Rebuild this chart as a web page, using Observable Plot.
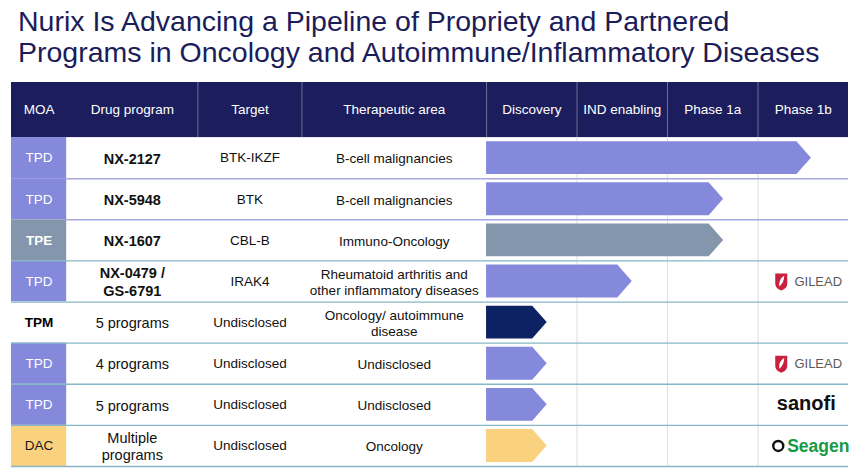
<!DOCTYPE html>
<html>
<head>
<meta charset="utf-8">
<script src="https://cdn.jsdelivr.net/npm/d3@7"></script>
<script src="https://cdn.jsdelivr.net/npm/@observablehq/plot@0.6"></script>
<style>
  html, body { margin: 0; padding: 0; background: #ffffff; }
  #title {
    font-family: "Liberation Sans", Arial, sans-serif;
    font-size: 28.5px;
    line-height: 31px;
    color: #1b1c5a;
    padding: 6px 0 0 18px;
    height: 64px;
    white-space: nowrap;
  }
  #chart svg { display: block; }
</style>
</head>
<body>
<div id="title">Nurix Is Advancing a Pipeline of Propriety and Partnered<br>Programs in Oncology and Autoimmune/Inflammatory Diseases</div>
<div id="chart"></div>
<script>
// ---- data ----
const columnHeads = ["MOA", "Drug program", "Target", "Therapeutic area"];
const stages = ["Discovery", "IND enabling", "Phase 1a", "Phase 1b"];
const moa = ["TPD", "TPD", "TPE", "TPD", "TPM", "TPD", "TPD", "DAC"];
const drugs = ["NX-2127", "NX-5948", "NX-1607", "NX-0479 /\nGS-6791", "5 programs", "4 programs", "5 programs", "Multiple\nprograms"];
const targets = ["BTK-IKZF", "BTK", "CBL-B", "IRAK4", "Undisclosed", "Undisclosed", "Undisclosed", "Undisclosed"];
const areas = ["B-cell malignancies", "B-cell malignancies", "Immuno-Oncology", "Rheumatoid arthritis and\nother inflammatory diseases", "Oncology/ autoimmune\ndisease", "Undisclosed", "Undisclosed", "Oncology"];
// progress measured in stages (0 = start of Discovery, 4 = end of Phase 1b), arrow tip position
const progress = [3.59, 2.62, 2.62, 1.61, 0.67, 0.67, 0.67, 0.67];
const partners = ["", "", "", "GILEAD", "", "GILEAD", "sanofi", "Seagen"];

// ---- layout (in stage units on x, row units on y) ----
const tableEdges = [-5.25, -4.64, -3.19, -2.04, 0];
const stageEdges = [0, 1, 2, 3, 4];
const headerTop = -1.34;
const tipLen = 0.16;
const inset = 0.1;

const moaFill = {TPD: "#8589db", TPE: "#8396ab", TPM: "#ffffff", DAC: "#f9d17f"};
const arrowFill = {TPD: "#8589db", TPE: "#8396ab", TPM: "#0c2262", DAC: "#f9d17f"};
const moaText = {TPD: "#ffffff", TPE: "#ffffff", TPM: "#000000", DAC: "#1a1a1a"};

const rows = moa.map((m, i) => ({
  i, moa: m, drug: drugs[i], target: targets[i], area: areas[i],
  progress: progress[i], partner: partners[i], bold: drugs[i].startsWith("NX")
}));

const arrowPts = rows.flatMap(r => [
  {row: r.i, x: stageEdges[0], y1: r.i + inset, y2: r.i + 1 - inset, fill: arrowFill[r.moa]},
  {row: r.i, x: r.progress - tipLen, y1: r.i + inset, y2: r.i + 1 - inset, fill: arrowFill[r.moa]},
  {row: r.i, x: r.progress, y1: r.i + 0.5, y2: r.i + 0.5, fill: arrowFill[r.moa]}
]);

const heads = [
  ...columnHeads.map((h, k) => ({label: h, x: (tableEdges[k] + tableEdges[k + 1]) / 2})),
  ...stages.map((s, k) => ({label: s, x: (stageEdges[k] + stageEdges[k + 1]) / 2}))
];

const seps = d3.range(1, rows.length + 1).map(b => ({
  y: b,
  x1: b <= 2 ? tableEdges[1] : tableEdges[0],
  stroke: b <= 2 ? "#a7a8df" : "#86b7c7",
  w: b <= 2 ? 1.5 : 1.3
}));

const cx = k => (tableEdges[k] + tableEdges[k + 1]) / 2;
const font = "Liberation Sans, Arial, sans-serif";

// Gilead shield symbol
const shield = {
  draw(ctx, size) {
    ctx.moveTo(-6, -8);
    ctx.lineTo(6, -8);
    ctx.lineTo(6, 2);
    ctx.quadraticCurveTo(6, 7, 0, 9);
    ctx.quadraticCurveTo(-6, 7, -6, 2);
    ctx.closePath();
  }
};
const leaf = {
  draw(ctx, size) {
    ctx.moveTo(-2, 5);
    ctx.quadraticCurveTo(-3, -2, 3, -6);
    ctx.quadraticCurveTo(3, 1, -2, 5);
    ctx.closePath();
  }
};

const gilead = rows.filter(r => r.partner === "GILEAD");
const sanofi = rows.filter(r => r.partner === "sanofi");
const seagen = rows.filter(r => r.partner === "Seagen");
const lastStage = (stageEdges[3] + stageEdges[4]) / 2;

const chart = Plot.plot({
  width: 865,
  height: 400,
  margin: 0,
  x: {domain: [tableEdges[0], stageEdges[4]], range: [11, 848], axis: null},
  y: {domain: [headerTop, rows.length], range: [12, 396], axis: null},
  color: {type: "identity"},
  style: {fontFamily: font, background: "#ffffff"},
  marks: [
    // header band
    Plot.rect([heads[0]], {x1: tableEdges[0], x2: stageEdges[4], y1: headerTop, y2: 0, fill: "#1c1d5c"}),
    Plot.ruleX([tableEdges[2], tableEdges[3], ...stageEdges.slice(0, 4)], {y1: headerTop, y2: 0, stroke: "#6e6f99", strokeWidth: 1}),
    Plot.text(heads, {x: "x", y: headerTop / 2, text: "label", fill: "#ffffff", fontSize: 13.5, fontFamily: font}),
    // stage grid
    Plot.ruleX(stageEdges.slice(1, 4), {y1: 0, y2: rows.length, stroke: "#e3e3e6", strokeWidth: 1.2}),
    // MOA cells
    Plot.rect(rows, {x1: tableEdges[0], x2: tableEdges[1], y1: d => d.i, y2: d => d.i + 1, fill: d => moaFill[d.moa]}),
    // row separators
    Plot.ruleY(seps, {y: "y", x1: "x1", x2: stageEdges[4], stroke: "stroke", strokeWidth: "w"}),
    // progress arrows
    Plot.areaY(arrowPts, {x: "x", y1: "y1", y2: "y2", z: "row", fill: "fill", curve: "linear"}),
    // MOA labels
    Plot.text(rows.filter(r => r.moa === "TPD" || r.moa === "DAC"), {x: cx(0), y: d => d.i + 0.5, text: "moa", fill: d => moaText[d.moa], fontSize: 13.5, fontFamily: font}),
    Plot.text(rows.filter(r => r.moa === "TPE" || r.moa === "TPM"), {x: cx(0), y: d => d.i + 0.5, text: "moa", fill: d => moaText[d.moa], fontSize: 13.5, fontWeight: "bold", fontFamily: font}),
    // drug programs
    Plot.text(rows.filter(r => r.bold), {x: cx(1), y: d => d.i + 0.5, text: "drug", fill: "#111111", fontSize: 14.5, fontWeight: "bold", lineHeight: 1.25, fontFamily: font}),
    Plot.text(rows.filter(r => !r.bold), {x: cx(1), y: d => d.i + 0.5, text: "drug", fill: "#111111", fontSize: 14.5, lineHeight: 1.22, fontFamily: font}),
    // targets
    Plot.text(rows, {x: cx(2), y: d => d.i + 0.5, text: "target", fill: "#111111", fontSize: 13.5, fontFamily: font}),
    // therapeutic areas
    Plot.text(rows, {x: cx(3), y: d => d.i + 0.5, text: "area", fill: "#111111", fontSize: 13.5, lineHeight: 1.22, fontFamily: font}),
    // partner logos (as text)
    Plot.dot(gilead, {x: lastStage, y: d => d.i + 0.5, dx: -22, symbol: shield, r: 6, fill: "#c8203f", stroke: "none"}),
    Plot.dot(gilead, {x: lastStage, y: d => d.i + 0.5, dx: -22, symbol: leaf, r: 6, fill: "#ffffff", stroke: "none"}),
    Plot.text(gilead, {x: lastStage, y: d => d.i + 0.5, dx: 15, text: "partner", fill: "#5a5a5a", fontSize: 13, letterSpacing: "1.2px", fontFamily: font}),
    Plot.text(sanofi, {x: lastStage, y: d => d.i + 0.5, dx: 3, dy: -1, text: "partner", fill: "#111111", fontSize: 20, fontWeight: "bold", fontFamily: font}),
    Plot.dot(seagen, {x: lastStage, y: d => d.i + 0.5, dx: -25, r: 5, fill: "none", stroke: "#111111", strokeWidth: 2.4}),
    Plot.text(seagen, {x: lastStage, y: d => d.i + 0.5, dx: 15, text: "partner", fill: "#169a45", fontSize: 17.5, fontWeight: "bold", fontFamily: font})
  ]
});
document.getElementById("chart").appendChild(chart);
</script>
</body>
</html>
